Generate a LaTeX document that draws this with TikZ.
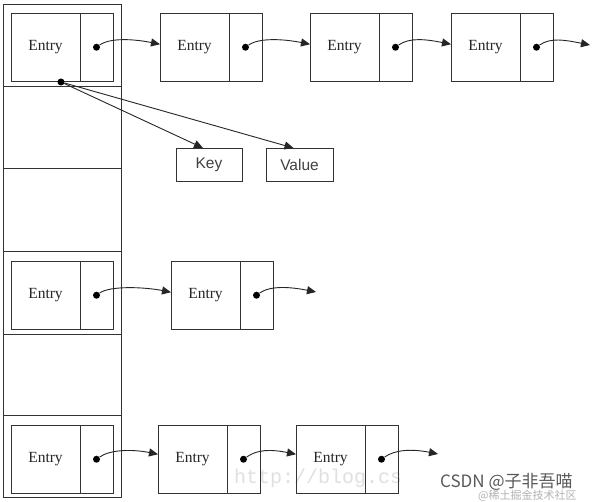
\documentclass[tikz,border=0pt]{standalone}
\usepackage{fontspec}
\setmainfont{Liberation Serif}
\newfontfamily\keyfont{Liberation Sans}
\newfontfamily\cjkfont{Noto Sans CJK SC}
\newfontfamily\wmfont{Liberation Mono}
\usetikzlibrary{arrows.meta,calc}
\newcommand\mkentry[3]{%
  \node[entry, anchor=north west] (#1) at (#2,#3) {Entry};
  \node[ptr] (#1p) at (#1.east) {};
  \node[dot] (#1d) at (#1p.center) {};
}
\begin{document}
\begin{tikzpicture}[x=1pt,y=-1pt,
  box/.style={draw=black!80, line width=0.9pt},
  slot/.style={draw=black!80, line width=1pt, minimum width=118pt, inner sep=0pt, outer sep=0pt, anchor=north west},
  entry/.style={box, minimum width=69pt, minimum height=68.5pt, inner sep=0pt, outer sep=0pt, font=\fontsize{15.5}{16}\selectfont, text=black!85},
  ptr/.style={box, minimum width=33pt, minimum height=68.5pt, inner sep=0pt, outer sep=0pt, anchor=west},
  kv/.style={box, minimum height=33pt, inner sep=0pt, outer sep=0pt, font=\keyfont\fontsize{15.5}{16}\selectfont, text=black!75},
  dot/.style={circle, fill=black, inner sep=0pt, minimum size=7pt},
  link/.style={line width=0.9pt, draw=black!85, -{Triangle[length=9pt,width=8pt]}},
]
\useasboundingbox[fill=white] (0,0) rectangle (592,502);
% watermark behind
\node[text=black!12, font=\wmfont\fontsize{20}{20}\selectfont, anchor=west, inner sep=0pt] (wm1) at (234,478) {http://blog.cs};
% bucket column
\node[slot, minimum height=82pt] (s0) at (3,5) {};
\node[slot, minimum height=82pt] (s1) at (3,87) {};
\node[slot, minimum height=83pt] (s2) at (3,169) {};
\node[slot, minimum height=83pt] (s3) at (3,252) {};
\node[slot, minimum height=81pt] (s4) at (3,335) {};
\node[slot, minimum height=82pt] (s5) at (3,416) {};
% row 0
\mkentry{a0}{11}{13}
\mkentry{a1}{160}{13}
\mkentry{a2}{310}{13}
\mkentry{a3}{451}{13}
\coordinate (a4) at (590,45);
\draw[link] (a0d) .. controls +(14,-10) and +(-25,-5) .. ($(a1.west)+(0,-3)$);
\draw[link] (a1d) .. controls +(14,-10) and +(-25,-5) .. ($(a2.west)+(0,-3)$);
\draw[link] (a2d) .. controls +(14,-10) and +(-25,-5) .. ($(a3.west)+(0,-3)$);
\draw[link] (a3d) .. controls +(14,-10) and +(-25,-5) .. (a4);
% key / value
\node[dot] (kvd) at (61,82) {};
\node[kv, minimum width=66pt] (key) at (209,164.5) {Key};
\node[kv, minimum width=67pt] (val) at (299.5,164.5) {Value};
\draw[link] (kvd) -- ($(key.north)+(-6,0)$);
\draw[link] (kvd) -- ($(val.north)+(-6,0)$);
% row 3
\mkentry{b0}{11}{261}
\mkentry{b1}{171}{261}
\coordinate (b2) at (316,292);
\draw[link] (b0d) .. controls +(14,-10) and +(-25,-5) .. ($(b1.west)+(0,-3)$);
\draw[link] (b1d) .. controls +(14,-10) and +(-25,-5) .. (b2);
% row 5
\mkentry{c0}{11}{425}
\mkentry{c1}{158}{425}
\mkentry{c2}{296}{425}
\coordinate (c3) at (438,454);
\draw[link] (c0d) .. controls +(14,-10) and +(-25,-5) .. ($(c1.west)+(0,-5)$);
\draw[link] (c1d) .. controls +(14,-10) and +(-25,-5) .. ($(c2.west)+(0,-5)$);
\draw[link] (c2d) .. controls +(14,-10) and +(-25,-5) .. (c3);
% watermarks
\node[text=black!65, font=\cjkfont\fontsize{17}{17}\selectfont, anchor=west, inner sep=0pt] (wm2) at (440,482) {CSDN @子非吾喵};
\node[text=black!30, font=\cjkfont\fontsize{11}{11}\selectfont, anchor=west, inner sep=0pt] (wm3) at (478,496) {@稀土掘金技术社区};
\end{tikzpicture}
\end{document}
